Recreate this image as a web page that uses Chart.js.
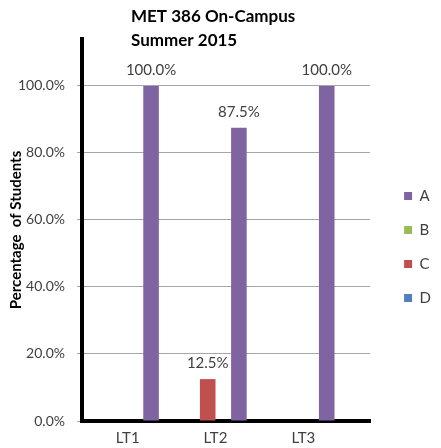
<!DOCTYPE html>
<html>
<head>
<meta charset="utf-8">
<script src="https://cdn.jsdelivr.net/npm/chart.js@4.4.1/dist/chart.umd.min.js"></script>
<style>
  html, body { margin: 0; padding: 0; background: #fff; }
</style>
</head>
<body>
<canvas id="gradeChart" width="441" height="448"></canvas>
<script>
    // data
    const categories = ['LT1', 'LT2', 'LT3'];
    const gradeA = [1.0, 0.875, 1.0];
    const gradeB = [0, 0, 0];
    const gradeC = [0, 0.125, 0];
    const gradeD = [0, 0, 0];
    const yTicks = [0, 0.2, 0.4, 0.6, 0.8, 1.0];
    const titleLines = ['MET 386 On-Campus', 'Summer 2015'];

    const FONT = 'Lato';
    const TEXT = '#404040';

    const toPoints = arr => arr.map((v, i) => ({ x: i, y: v }));
    const pct = v => (v * 100).toFixed(1) + '%';

    // Excel draws the series right to left here (A rightmost)
    const datasets = [
      { label: 'D', data: toPoints(gradeD), backgroundColor: '#4F81BD' },
      { label: 'C', data: toPoints(gradeC), backgroundColor: '#C0504D' },
      { label: 'B', data: toPoints(gradeB), backgroundColor: '#9BBB59' },
      { label: 'A', data: toPoints(gradeA), backgroundColor: '#8064A2' }
    ];

    // two-line title, left aligned like the original
    const titlePlugin = {
      id: 'titleLines',
      afterDraw(chart) {
        const ctx = chart.ctx;
        ctx.save();
        ctx.font = 'bold 17px ' + FONT;
        ctx.fillStyle = '#000';
        ctx.textAlign = 'left';
        ctx.textBaseline = 'middle';
        titleLines.forEach((t, i) => ctx.fillText(t, 131, 17 + i * 24));
        ctx.restore();
      }
    };

    // value labels above the non-zero bars
    const valueLabels = {
      id: 'valueLabels',
      afterDatasetsDraw(chart) {
        const ctx = chart.ctx;
        ctx.save();
        ctx.font = '15px ' + FONT;
        ctx.fillStyle = TEXT;
        ctx.textAlign = 'center';
        ctx.textBaseline = 'middle';
        chart.data.datasets.forEach((ds, di) => {
          chart.getDatasetMeta(di).data.forEach((bar, i) => {
            const v = ds.data[i].y;
            if (v > 0) ctx.fillText(pct(v), bar.x, bar.y - 16);
          });
        });
        ctx.restore();
      }
    };

    new Chart(document.getElementById('gradeChart'), {
      type: 'bar',
      data: { datasets },
      options: {
        responsive: false,
        animation: false,
        categoryPercentage: 0.71,
        barPercentage: 1.0,
        layout: { padding: { top: 39, right: 0, bottom: -7, left: 0 } },
        plugins: {
          legend: {
            position: 'right',
            reverse: true,
            labels: {
              boxWidth: 8,
              boxHeight: 8,
              padding: 19,
              color: TEXT,
              font: { family: FONT, size: 15 }
            }
          },
          tooltip: { enabled: false }
        },
        scales: {
          x: {
            type: 'linear',
            offset: false,
            min: -0.52,
            max: 2.76,
            afterBuildTicks: s => { s.ticks = categories.map((c, i) => ({ value: i })); },
            ticks: {
              callback: v => categories[v],
              color: TEXT,
              padding: 8,
              font: { family: FONT, size: 15 }
            },
            grid: { display: false, drawTicks: false },
            border: { color: '#000', width: 4 }
          },
          y: {
            min: 0,
            max: 1.14,
            afterBuildTicks: s => { s.ticks = yTicks.map(v => ({ value: v })); },
            afterFit: s => { s.width = 82; },
            ticks: {
              callback: v => pct(v),
              color: TEXT,
              padding: 12,
              font: { family: FONT, size: 14 }
            },
            grid: { color: '#a6a6a6', lineWidth: 1, tickLength: 5 },
            border: { color: '#000', width: 4 },
            title: {
              display: true,
              text: 'Percentage  of Students',
              color: '#000',
              padding: { top: 7, bottom: 0 },
              font: { family: FONT, size: 15, weight: 'bold' }
            }
          },
          // spacer between plot and legend
          gap: {
            type: 'linear',
            position: 'right',
            grid: { display: false },
            border: { display: false },
            ticks: { display: false },
            afterFit: s => { s.width = 15; }
          }
        }
      },
      plugins: [titlePlugin, valueLabels]
    });
</script>
</body>
</html>
